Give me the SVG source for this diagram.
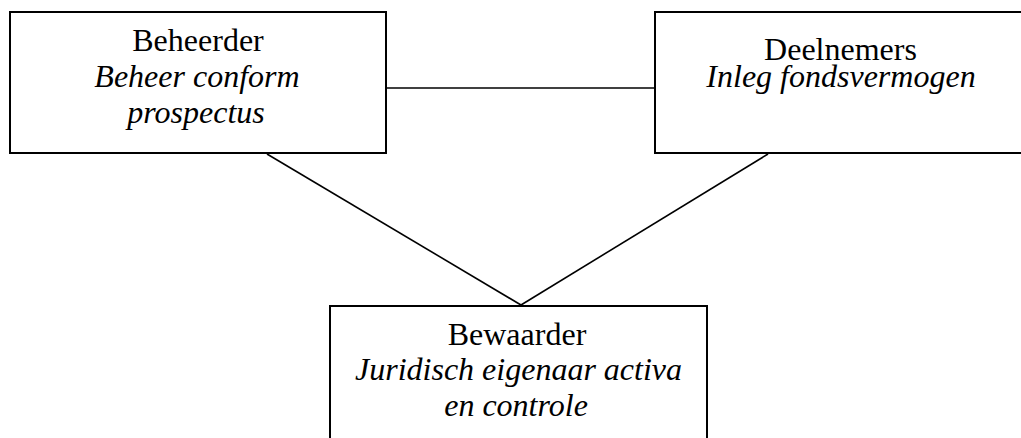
<svg xmlns="http://www.w3.org/2000/svg" width="1021" height="438" viewBox="0 0 1021 438">
<style>
.box{fill:#fff;stroke:#000;stroke-width:2}
.conn{stroke:#000;stroke-width:1.6;fill:none}
text{font-family:"Liberation Serif","Times New Roman",serif;font-size:32px;fill:#000;text-anchor:middle}
.it{font-style:italic}
</style>
<rect width="1021" height="438" fill="#fff"/>
<g id="connectors">
<line class="conn" x1="387" y1="88" x2="655" y2="88"/>
<line class="conn" x1="267" y1="154" x2="521" y2="305"/>
<line class="conn" x1="768" y1="154" x2="521" y2="305"/>
</g>
<g id="beheerder">
<rect class="box" x="10" y="12" width="376" height="141"/>
<text x="198" y="51">Beheerder</text>
<text class="it" x="197" y="87">Beheer conform</text>
<text class="it" x="196" y="123">prospectus</text>
</g>
<g id="deelnemers">
<rect class="box" x="655" y="12" width="380" height="141"/>
<text x="840.5" y="60">Deelnemers</text>
<text class="it" x="841" y="87">Inleg fondsvermogen</text>
</g>
<g id="bewaarder">
<rect class="box" x="330" y="306" width="377" height="200"/>
<text x="517" y="345">Bewaarder</text>
<text class="it" x="518.5" y="380">Juridisch eigenaar activa</text>
<text class="it" x="516" y="416">en controle</text>
</g>
</svg>
